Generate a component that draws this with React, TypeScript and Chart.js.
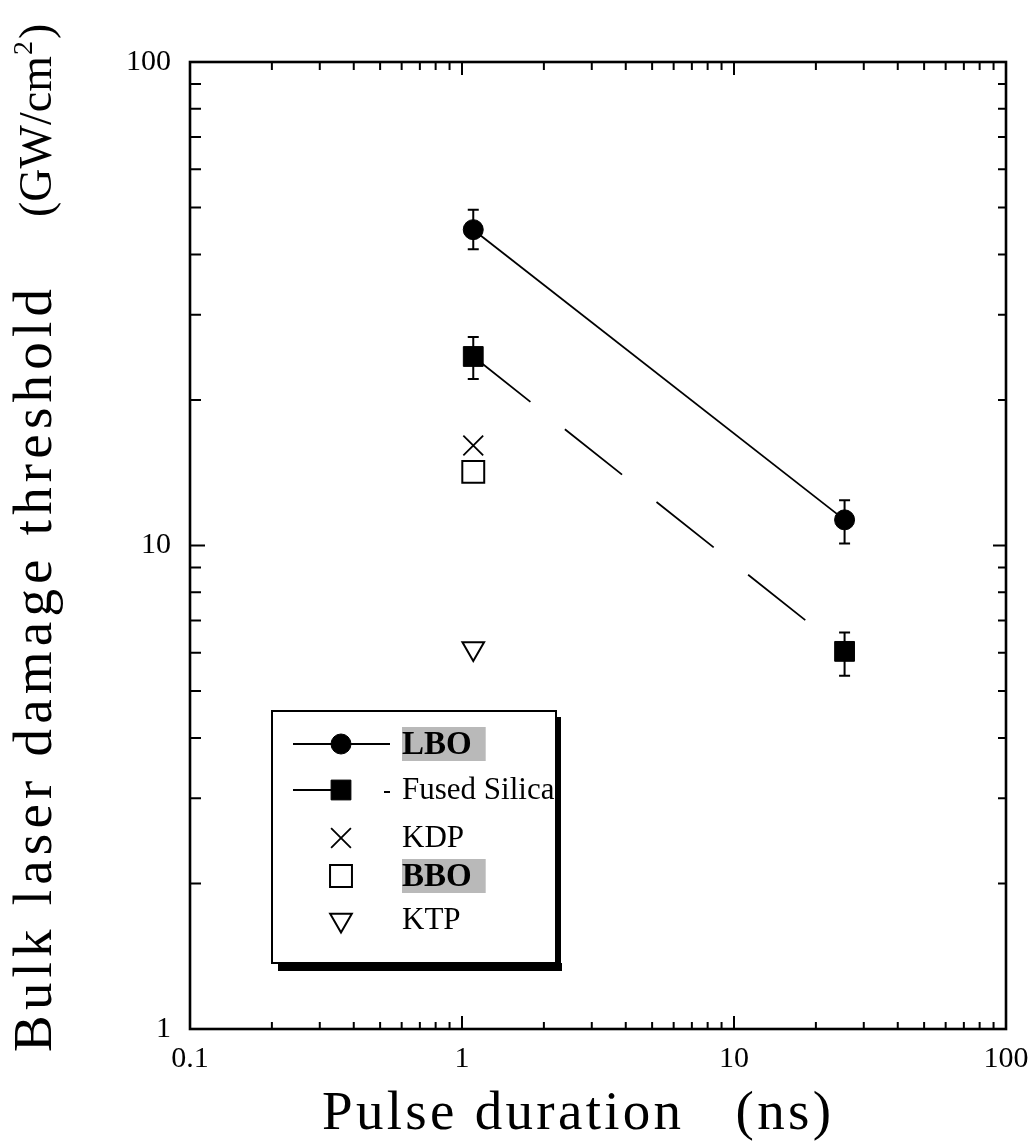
import React, { useEffect, useRef } from 'react';
import { Chart, registerables } from 'chart.js';

Chart.register(...registerables);

// ---------- data ----------
const seriesNames = ['LBO', 'Fused Silica', 'KDP', 'BBO', 'KTP'];
const lboX = [1.1, 25.5];
const lboY = [45, 11.3];
const lboErrLow = [41, 10.1];
const lboErrHigh = [49.5, 12.4];
const fsX = [1.1, 25.5];
const fsY = [24.6, 6.04];
const fsErrLow = [22.1, 5.38];
const fsErrHigh = [27.0, 6.61];
const kdpX = [1.1];
const kdpY = [16.1];
const bboX = [1.1];
const bboY = [14.2];
const ktpX = [1.1];
const ktpY = [6.12];

const xTickValues = [0.1, 1, 10, 100];
const xTickLabels = ['0.1', '1', '10', '100'];
const yTickValues = [1, 10, 100];
const yTickLabels = ['1', '10', '100'];
const minorMultipliers = [2, 3, 4, 5, 6, 7, 8, 9];

const xTitle = 'Pulse duration   (ns)';
const yTitleMain = 'Bulk laser damage threshold';
const yTitleUnit = '(GW/cm';
const yTitleSup = '2';
const yTitleEnd = ')';

const FONT = '"Liberation Serif", "Times New Roman", serif';

const toPoints = (xs: number[], ys: number[]) => xs.map((x, i) => ({ x, y: ys[i] }));

// ---------- plugins ----------
const errorBarPlugin = {
  id: 'errorBars',
  beforeDatasetsDraw(chart: any) {
    const { ctx } = chart;
    const xs = chart.scales.x;
    const ys = chart.scales.y;
    chart.data.datasets.forEach((ds: any) => {
      if (!ds.errLow) return;
      ctx.save();
      ctx.strokeStyle = '#000';
      ctx.lineWidth = 2;
      ds.data.forEach((p: any, i: number) => {
        const px = xs.getPixelForValue(p.x);
        const yl = ys.getPixelForValue(ds.errLow[i]);
        const yh = ys.getPixelForValue(ds.errHigh[i]);
        ctx.beginPath();
        ctx.moveTo(px, yh);
        ctx.lineTo(px, yl);
        ctx.moveTo(px - 5.5, yh);
        ctx.lineTo(px + 5.5, yh);
        ctx.moveTo(px - 5.5, yl);
        ctx.lineTo(px + 5.5, yl);
        ctx.stroke();
      });
      ctx.restore();
    });
  },
};

const framePlugin = {
  id: 'frame',
  afterDraw(chart: any) {
    const { ctx, chartArea: a } = chart;
    const xs = chart.scales.x;
    const ys = chart.scales.y;
    ctx.save();
    ctx.strokeStyle = '#000';
    ctx.lineWidth = 2.6;
    ctx.strokeRect(a.left, a.top, a.right - a.left, a.bottom - a.top);
    ctx.lineWidth = 2;
    ctx.beginPath();
    for (let d = 0; d < xTickValues.length - 1; d++) {
      const base = xTickValues[d];
      minorMultipliers.forEach((m) => {
        const px = xs.getPixelForValue(base * m);
        ctx.moveTo(px, a.bottom);
        ctx.lineTo(px, a.bottom - 7);
        ctx.moveTo(px, a.top);
        ctx.lineTo(px, a.top + 8);
      });
      if (d > 0) {
        const px = xs.getPixelForValue(base);
        ctx.moveTo(px, a.bottom);
        ctx.lineTo(px, a.bottom - 13);
        ctx.moveTo(px, a.top);
        ctx.lineTo(px, a.top + 13);
      }
    }
    for (let d = 0; d < yTickValues.length - 1; d++) {
      const base = yTickValues[d];
      minorMultipliers.forEach((m) => {
        const py = ys.getPixelForValue(base * m);
        ctx.moveTo(a.left, py);
        ctx.lineTo(a.left + 11, py);
        ctx.moveTo(a.right, py);
        ctx.lineTo(a.right - 8, py);
      });
      if (d > 0) {
        const py = ys.getPixelForValue(base);
        ctx.moveTo(a.left, py);
        ctx.lineTo(a.left + 15, py);
        ctx.moveTo(a.right, py);
        ctx.lineTo(a.right - 13, py);
      }
    }
    ctx.stroke();
    ctx.restore();
  },
};

const titlePlugin = {
  id: 'titles',
  afterDraw(chart: any) {
    const { ctx, chartArea: a } = chart;
    ctx.save();
    ctx.fillStyle = '#000';
    ctx.textAlign = 'left';
    ctx.textBaseline = 'alphabetic';
    // x title
    ctx.font = `55px ${FONT}`;
    (ctx as any).letterSpacing = '3.3px';
    ctx.fillText(xTitle, a.left + 132, a.bottom + 100);
    // y title main part
    ctx.save();
    ctx.translate(51, a.bottom + 23);
    ctx.rotate(-Math.PI / 2);
    (ctx as any).letterSpacing = '5.2px';
    ctx.font = `55px ${FONT}`;
    ctx.fillText(yTitleMain, 0, 0);
    ctx.restore();
    // y title unit
    ctx.save();
    ctx.translate(51, a.top + 155);
    ctx.rotate(-Math.PI / 2);
    (ctx as any).letterSpacing = '0px';
    ctx.font = `46px ${FONT}`;
    ctx.fillText(yTitleUnit, 0, 0);
    const w1 = ctx.measureText(yTitleUnit).width;
    ctx.font = `28px ${FONT}`;
    ctx.fillText(yTitleSup, w1 + 1, -19);
    const w2 = ctx.measureText(yTitleSup).width;
    ctx.font = `46px ${FONT}`;
    ctx.fillText(yTitleEnd, w1 + w2 + 3, 0);
    ctx.restore();
    ctx.restore();
  },
};

function drawMarker(ctx: CanvasRenderingContext2D, ds: any, x: number, y: number) {
  const r = ds.pointRadius;
  ctx.save();
  ctx.lineWidth = ds.pointBorderWidth;
  ctx.strokeStyle = ds.pointBorderColor;
  ctx.fillStyle = ds.pointBackgroundColor;
  ctx.beginPath();
  const st = ds.pointStyle;
  if (st === 'circle') {
    ctx.arc(x, y, r, 0, Math.PI * 2);
    ctx.fill();
    ctx.stroke();
  } else if (st === 'rect') {
    const s = Math.SQRT1_2 * r;
    ctx.rect(x - s, y - s, 2 * s, 2 * s);
    ctx.fill();
    ctx.stroke();
  } else if (st === 'crossRot') {
    const s = Math.SQRT1_2 * r;
    ctx.moveTo(x - s, y - s);
    ctx.lineTo(x + s, y + s);
    ctx.moveTo(x + s, y - s);
    ctx.lineTo(x - s, y + s);
    ctx.stroke();
  } else if (st === 'triangle') {
    let rad = ((ds.pointRotation || 0) * Math.PI) / 180;
    ctx.moveTo(x + Math.sin(rad) * r, y - Math.cos(rad) * r);
    rad += (2 * Math.PI) / 3;
    ctx.lineTo(x + Math.sin(rad) * r, y - Math.cos(rad) * r);
    rad += (2 * Math.PI) / 3;
    ctx.lineTo(x + Math.sin(rad) * r, y - Math.cos(rad) * r);
    ctx.closePath();
    ctx.fill();
    ctx.stroke();
  }
  ctx.restore();
}

const legendPlugin = {
  id: 'boxLegend',
  afterDraw(chart: any) {
    const { ctx } = chart;
    const left = 272;
    const top = 711;
    const right = 556;
    const bottom = 963;
    ctx.save();
    ctx.fillStyle = '#000';
    ctx.fillRect(left + 6, bottom, right - left, 8);
    ctx.fillRect(right, top + 6, 5, bottom - top + 2);
    ctx.fillStyle = '#fff';
    ctx.fillRect(left, top, right - left, bottom - top);
    ctx.strokeStyle = '#000';
    ctx.lineWidth = 2;
    ctx.strokeRect(left, top, right - left, bottom - top);

    const rowY = [744, 790, 838, 876, 920];
    const markerX = 341;
    const textX = 402;
    chart.data.datasets.forEach((ds: any, i: number) => {
      const y = rowY[i];
      if (ds.showLine) {
        ctx.save();
        ctx.strokeStyle = '#000';
        ctx.lineWidth = 1.8;
        ctx.beginPath();
        if (i === 0) {
          ctx.moveTo(293, y);
          ctx.lineTo(390, y);
        } else {
          ctx.moveTo(293, y);
          ctx.lineTo(markerX, y);
          ctx.moveTo(384, y + 2);
          ctx.lineTo(390, y + 2);
        }
        ctx.stroke();
        ctx.restore();
      }
      drawMarker(ctx, ds, markerX, y);
      const bold = ds.legendHighlight;
      ctx.font = `${bold ? 'bold ' : ''}${bold ? 33 : 31}px ${FONT}`;
      ctx.textBaseline = 'middle';
      ctx.textAlign = 'left';
      if (bold) {
        const w = ctx.measureText(ds.label).width;
        ctx.fillStyle = '#b9b9b9';
        ctx.fillRect(textX, y - 17, w + 14, 34);
      }
      ctx.fillStyle = '#000';
      ctx.fillText(ds.label, textX, y + 1);
    });
    ctx.restore();
  },
};

export default function App() {
  const canvasRef = useRef<HTMLCanvasElement | null>(null);

  useEffect(() => {
    const canvas = canvasRef.current;
    if (!canvas) return;
    const chart = new Chart(canvas, {
      type: 'scatter',
      data: {
        datasets: [
          {
            label: seriesNames[0],
            data: toPoints(lboX, lboY),
            showLine: true,
            borderColor: '#000',
            borderWidth: 1.8,
            pointStyle: 'circle',
            pointRadius: 10,
            pointBorderWidth: 1,
            pointBackgroundColor: '#000',
            pointBorderColor: '#000',
            errLow: lboErrLow,
            errHigh: lboErrHigh,
            legendHighlight: true,
          } as any,
          {
            label: seriesNames[1],
            data: toPoints(fsX, fsY),
            showLine: true,
            borderColor: '#000',
            borderWidth: 1.8,
            borderDash: [73, 44],
            pointStyle: 'rect',
            pointRadius: 14,
            pointBorderWidth: 1,
            pointBackgroundColor: '#000',
            pointBorderColor: '#000',
            errLow: fsErrLow,
            errHigh: fsErrHigh,
          } as any,
          {
            label: seriesNames[2],
            data: toPoints(kdpX, kdpY),
            showLine: false,
            pointStyle: 'crossRot',
            pointRadius: 14,
            pointBorderWidth: 1.8,
            pointBackgroundColor: 'rgba(0,0,0,0)',
            pointBorderColor: '#000',
          } as any,
          {
            label: seriesNames[3],
            data: toPoints(bboX, bboY),
            showLine: false,
            pointStyle: 'rect',
            pointRadius: 15.5,
            pointBorderWidth: 2,
            pointBackgroundColor: 'rgba(0,0,0,0)',
            pointBorderColor: '#000',
            legendHighlight: true,
          } as any,
          {
            label: seriesNames[4],
            data: toPoints(ktpX, ktpY),
            showLine: false,
            pointStyle: 'triangle',
            pointRotation: 180,
            pointRadius: 12.5,
            pointBorderWidth: 2,
            pointBackgroundColor: 'rgba(0,0,0,0)',
            pointBorderColor: '#000',
          } as any,
        ],
      },
      options: {
        responsive: false,
        maintainAspectRatio: false,
        animation: false,
        devicePixelRatio: 1,
        layout: { padding: { top: 62, right: 23, bottom: 0, left: 0 } },
        plugins: {
          legend: { display: false },
          tooltip: { enabled: false },
        },
        scales: {
          x: {
            type: 'logarithmic',
            min: 0.1,
            max: 100,
            grid: { display: false, drawTicks: false },
            border: { display: false },
            afterBuildTicks: (s: any) => {
              s.ticks = xTickValues.map((v) => ({ value: v }));
            },
            afterFit: (s: any) => {
              s.height = 112;
              s.paddingLeft = 0;
              s.paddingRight = 0;
            },
            ticks: {
              autoSkip: false,
              maxRotation: 0,
              padding: 12,
              color: '#000',
              font: { family: FONT, size: 30 },
              callback: (v: any) => {
                const i = xTickValues.indexOf(Number(v));
                return i >= 0 ? xTickLabels[i] : '';
              },
            },
          },
          y: {
            type: 'logarithmic',
            min: 1,
            max: 100,
            grid: { display: false, drawTicks: false },
            border: { display: false },
            afterBuildTicks: (s: any) => {
              s.ticks = yTickValues.map((v) => ({ value: v }));
            },
            afterFit: (s: any) => {
              s.width = 190;
              s.paddingTop = 0;
              s.paddingBottom = 0;
            },
            ticks: {
              autoSkip: false,
              padding: 19,
              color: '#000',
              font: { family: FONT, size: 30 },
              callback: (v: any) => {
                const i = yTickValues.indexOf(Number(v));
                return i >= 0 ? yTickLabels[i] : '';
              },
            },
          },
        },
      } as any,
      plugins: [errorBarPlugin, framePlugin, titlePlugin, legendPlugin],
    });
    return () => chart.destroy();
  }, []);

  return (
    <div style={{ position: 'absolute', left: 0, top: 0, width: 1029, height: 1141, background: '#fff' }}>
      <canvas ref={canvasRef} width={1029} height={1141} style={{ display: 'block', width: 1029, height: 1141 }} />
    </div>
  );
}
